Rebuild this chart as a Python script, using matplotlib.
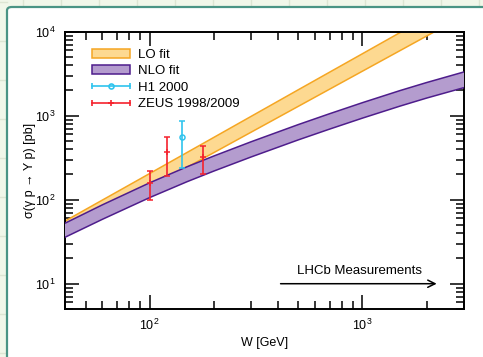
import matplotlib
matplotlib.use('Agg')
import matplotlib.pyplot as plt
from matplotlib.patches import FancyBboxPatch, Patch
from matplotlib.lines import Line2D
from matplotlib.legend_handler import HandlerBase
from matplotlib.ticker import LogLocator, NullFormatter

plt.rcParams['font.family'] = ['Liberation Sans', 'DejaVu Sans']
plt.rcParams['mathtext.default'] = 'regular'

# theory bands (W in GeV, sigma in pb)
w_lo = [40, 100, 200, 500, 1000, 2000, 3000]
lo_low = [39, 139, 363, 1295, 3390, 8860, 15600]
lo_high = [55.7, 205, 551, 2040, 5470, 14700, 26200]

w_nlo = [40, 60, 100, 150, 200, 300, 500, 700, 1000, 1500, 2000, 3000]
nlo_high = [52.5, 87, 159, 247, 331, 490, 785, 1055, 1430, 1990, 2480, 3320]
nlo_low = [35.7, 58.5, 106, 164, 219, 323, 516, 692, 936, 1300, 1620, 2160]

# measurements
h1_w = [142]
h1_sig = [556]
h1_lo = [236]
h1_hi = [860]

zeus_w = [100, 120, 179]
zeus_sig = [159, 372, 324]
zeus_lo = [98, 191, 202]
zeus_hi = [221, 560, 438]

# LHCb range arrow
lhcb_w = [400, 2300]
lhcb_y = 10
lhcb_label = 'LHCb Measurements'

# colours
lo_fill, lo_edge = '#fdd991', '#f5a623'
nlo_fill, nlo_edge = '#b49cce', '#4e1d8c'
h1_col = '#2fc4ee'
zeus_col = '#f5222d'


class HandlerHBar(HandlerBase):
    """horizontal error-bar style legend entry: |--marker--|"""
    def create_artists(self, legend, orig_handle, xdescent, ydescent,
                       width, height, fontsize, trans):
        y = height / 2 - ydescent
        x0, x1 = -xdescent, width - xdescent
        c = orig_handle.get_color()
        line = Line2D([x0, x1], [y, y], color=c, lw=1.2)
        caps = Line2D([x0, x1], [y, y], ls='none', marker='|', ms=5,
                      mew=1.2, color=c)
        mk = Line2D([(x0 + x1) / 2], [y], ls='none',
                    marker=orig_handle.get_marker(),
                    ms=orig_handle.get_markersize(), mew=1.2,
                    mfc='none', color=c)
        for a in (line, caps, mk):
            a.set_transform(trans)
        return [line, caps, mk]


fig = plt.figure(figsize=(4.83, 3.57), dpi=100)
fig.patch.set_facecolor('#f1f7e9')

# faint page grid, only visible in the strips around the white panel
top_strip = 1 - 7 / 357
for gx in range(23, 483, 38):
    fig.add_artist(Line2D([gx / 483, gx / 483], [top_strip, 1], color='#dde6d3',
                          lw=1, transform=fig.transFigure, zorder=-3))
for gy in range(2, 357, 39):
    fig.add_artist(Line2D([0, 7 / 483], [1 - gy / 357, 1 - gy / 357], color='#dde6d3',
                          lw=1, transform=fig.transFigure, zorder=-3))

panel = FancyBboxPatch((7 / 483, -0.1), 1.2, 1 - 7 / 357 + 0.1,
                       boxstyle='round,pad=0,rounding_size=0.01',
                       transform=fig.transFigure, facecolor='white',
                       edgecolor='#4a9484', lw=1.6, zorder=-2)
fig.add_artist(panel)

ax = fig.add_axes([65 / 483, 1 - 309 / 357, 399 / 483, 277.3 / 357])
ax.set_zorder(1)
ax.patch.set_alpha(0)

ax.fill_between(w_lo, lo_low, lo_high, facecolor=lo_fill, edgecolor='none', zorder=2)
ax.plot(w_lo, lo_low, color=lo_edge, lw=1.1, zorder=2)
ax.plot(w_lo, lo_high, color=lo_edge, lw=1.1, zorder=2)

ax.fill_between(w_nlo, nlo_low, nlo_high, facecolor=nlo_fill, edgecolor='none', zorder=3)
ax.plot(w_nlo, nlo_low, color=nlo_edge, lw=1.1, zorder=3)
ax.plot(w_nlo, nlo_high, color=nlo_edge, lw=1.1, zorder=3)

zeus_err = [[s - l for s, l in zip(zeus_sig, zeus_lo)],
            [h - s for s, h in zip(zeus_sig, zeus_hi)]]
h1_err = [[s - l for s, l in zip(h1_sig, h1_lo)],
          [h - s for s, h in zip(h1_sig, h1_hi)]]

ax.errorbar(zeus_w, zeus_sig, yerr=zeus_err, fmt='+', color=zeus_col,
            ms=5, mew=1.1, elinewidth=1.2, capsize=2.2, capthick=1.1, zorder=5)
ax.errorbar(h1_w, h1_sig, yerr=h1_err, fmt='o', color=h1_col, mfc='none',
            ms=3.6, mew=1.1, elinewidth=1.2, capsize=2.2, capthick=1.1, zorder=5)

ax.annotate('', xy=(lhcb_w[1], lhcb_y), xytext=(lhcb_w[0], lhcb_y),
            arrowprops=dict(arrowstyle='->', lw=1.1, color='black',
                            mutation_scale=13), zorder=6)
ax.text(970, 14.1, lhcb_label, ha='center', va='center', fontsize=9.5)

ax.set_xscale('log')
ax.set_yscale('log')
ax.set_xlim(40, 3000)
ax.set_ylim(5, 1e4)

ax.xaxis.set_major_locator(LogLocator(base=10, numticks=10))
ax.xaxis.set_minor_locator(LogLocator(base=10, subs=range(2, 10), numticks=20))
ax.yaxis.set_major_locator(LogLocator(base=10, numticks=10))
ax.yaxis.set_minor_locator(LogLocator(base=10, subs=range(2, 10), numticks=20))
ax.xaxis.set_minor_formatter(NullFormatter())
ax.yaxis.set_minor_formatter(NullFormatter())

ax.tick_params(which='both', direction='in', top=True, right=True,
               width=1.1, labelsize=9)
ax.tick_params(which='major', length=10)
ax.tick_params(which='minor', length=5.5)
ax.tick_params(axis='x', which='major', pad=6)
ax.tick_params(axis='y', which='major', pad=7)
for sp in ax.spines.values():
    sp.set_linewidth(1.4)

ax.set_xlabel('W [GeV]', fontsize=9)
ax.set_ylabel('σ(γ p → Υ p) [pb]', fontsize=9)
ax.xaxis.set_label_coords(0.5, -0.1)
ax.yaxis.set_label_coords(-0.072, 0.5)

handles = [Patch(facecolor=lo_fill, edgecolor=lo_edge, lw=1.1),
           Patch(facecolor=nlo_fill, edgecolor=nlo_edge, lw=1.1),
           Line2D([], [], color=h1_col, marker='o', ms=3.6),
           Line2D([], [], color=zeus_col, marker='+', ms=5)]
labels = ['LO fit', 'NLO fit', 'H1 2000', 'ZEUS 1998/2009']
ax.legend(handles, labels, loc='upper left', bbox_to_anchor=(0.068, 0.939),
          frameon=False, fontsize=9.5, handlelength=2.9, handleheight=0.7,
          handletextpad=0.55, labelspacing=0.32, borderpad=0, borderaxespad=0,
          handler_map={Line2D: HandlerHBar()})

fig.savefig('out.png', dpi=100, facecolor=fig.get_facecolor())
